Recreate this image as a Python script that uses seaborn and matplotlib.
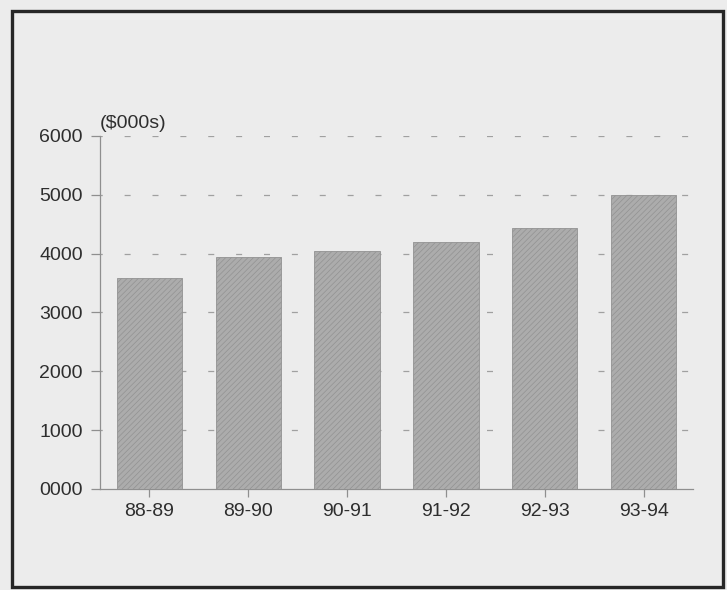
import matplotlib
matplotlib.use("Agg")
import matplotlib.pyplot as plt
from matplotlib.patches import Rectangle
from matplotlib.ticker import FixedLocator, FuncFormatter
import seaborn as sns
import pandas as pd

# Annual totals in thousands of dollars
periods = ["88-89", "89-90", "90-91", "91-92", "92-93", "93-94"]
totals = [3590, 3940, 4050, 4190, 4440, 5000]
y_ticks = [0, 1000, 2000, 3000, 4000, 5000, 6000]
unit_label = "($000s)"

paper = "#ececec"
ink = "#2e2e2e"
axis_grey = "#8f8f8f"

sns.set_style("white", {
    "axes.facecolor": paper,
    "figure.facecolor": paper,
})
plt.rcParams["font.family"] = ["Liberation Sans", "DejaVu Sans"]
plt.rcParams["hatch.linewidth"] = 0.5

df = pd.DataFrame({"period": periods, "total": totals})

fig = plt.figure(figsize=(7.27, 5.90), dpi=100)
ax = fig.add_axes([0.1376, 0.1712, 0.8156, 0.5983])

sns.barplot(data=df, x="period", y="total", ax=ax, color="#acacac",
            width=0.66, saturation=1, zorder=3)
for bar in ax.patches:
    bar.set_hatch("//////")
    bar.set_edgecolor("#929292")
    bar.set_linewidth(0.6)

ax.set_xlim(-0.5, 5.5)
ax.set_ylim(0, 6000)
ax.yaxis.set_major_locator(FixedLocator(y_ticks))
ax.yaxis.set_major_formatter(FuncFormatter(lambda v, _: f"{int(v):04d}"))

# dashed horizontal guides behind the bars
for v in y_ticks[1:]:
    ax.axhline(v, color="#a0a0a0", lw=0.9, ls=(3, (4.8, 17.5)), zorder=1)

ax.set_xlabel("")
ax.set_ylabel("")
for side in ("top", "right"):
    ax.spines[side].set_visible(False)
for side in ("left", "bottom"):
    ax.spines[side].set_color(axis_grey)
    ax.spines[side].set_linewidth(0.9)

ax.tick_params(axis="y", left=True, direction="out", length=6.5, width=0.9,
               color=axis_grey, labelsize=14, labelcolor=ink, pad=6)
ax.tick_params(axis="x", bottom=True, direction="out", length=6, width=0.9,
               color=axis_grey, labelsize=14, labelcolor=ink, pad=4)

ax.annotate(unit_label, xy=(0, 1), xycoords="axes fraction",
            xytext=(0, 3), textcoords="offset points",
            ha="left", va="bottom", fontsize=14, color=ink)

# outer frame around the exhibit
fig.patches.append(Rectangle((12 / 727, 3 / 590), 711 / 727, 576 / 590,
                             transform=fig.transFigure, fill=False,
                             edgecolor="#262626", linewidth=2.4))

fig.savefig("out.png", dpi=100, facecolor=paper)
